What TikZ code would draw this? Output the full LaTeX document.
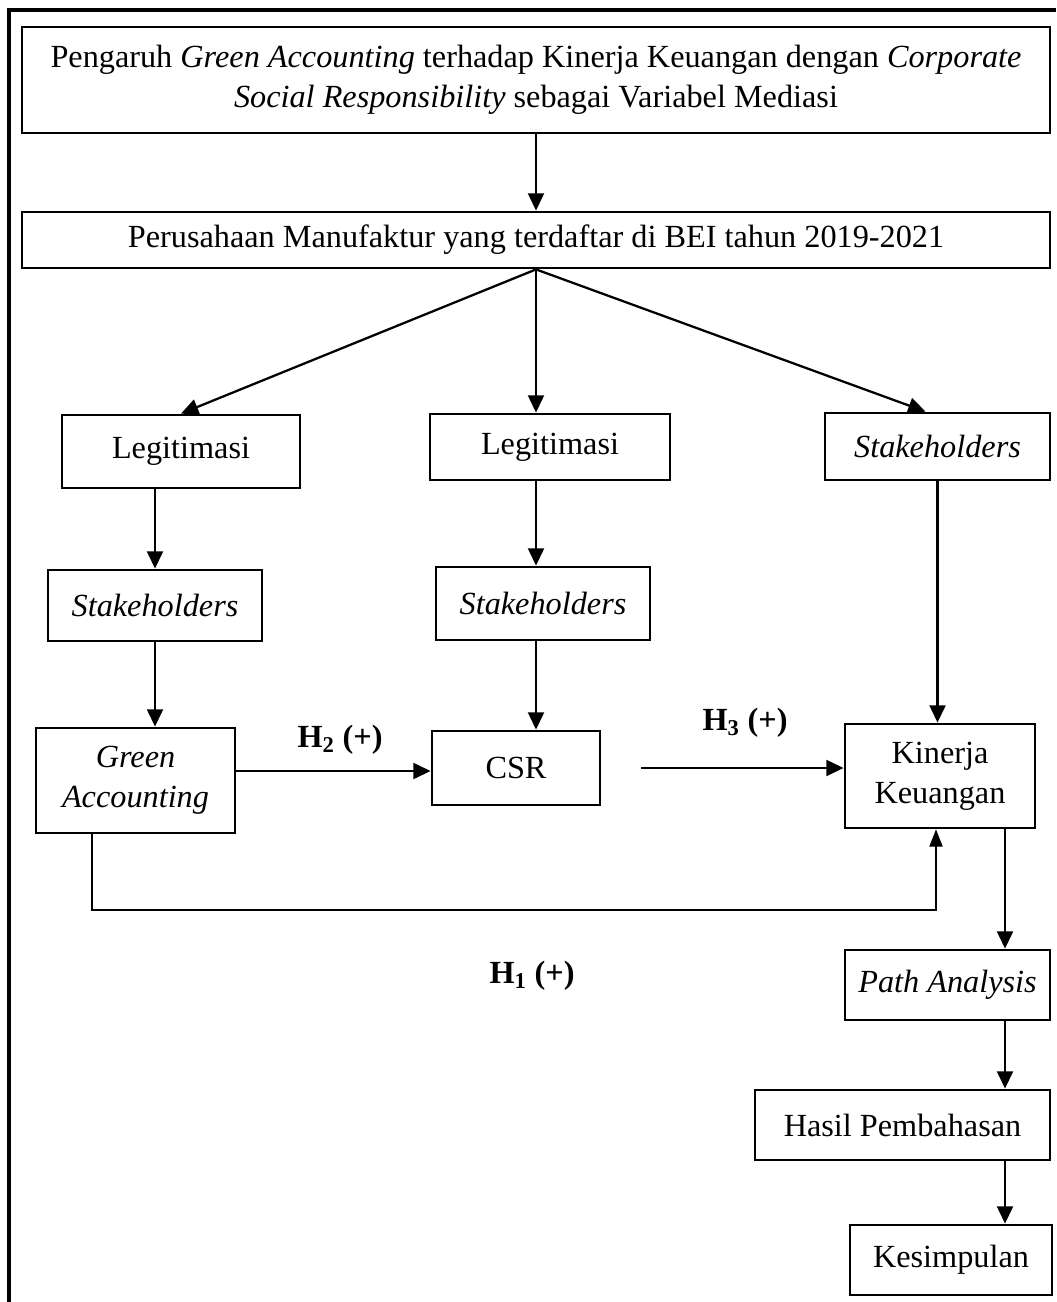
\documentclass[tikz,border=0pt]{standalone}
\usepackage{fontspec}
\setmainfont{Liberation Serif}
\usetikzlibrary{positioning, arrows.meta, calc}
\definecolor{clrborder}{HTML}{000000}
\definecolor{clrtext}{HTML}{000000}

\begin{document}
\begin{tikzpicture}[
    x=0.75pt, y=-0.75pt,
    every node/.style={font=\fontsize{24.2}{30}\selectfont, text=clrtext},
    block/.style={draw=clrborder, line width=2.1pt, inner sep=0pt, align=center},
    arrow/.style={-{Triangle[length=13pt, width=12pt]}, color=clrborder, line width=1.7pt},
    thinarrow/.style={-{Triangle[length=13pt, width=10pt]}, color=clrborder, line width=0.9pt},
    frame/.style={draw=clrborder, line width=2.6pt},
    hlabel/.style={font=\fontsize{24.2}{30}\selectfont\bfseries, text=clrtext},
]
\useasboundingbox (0,0) rectangle (1056,1302);
\draw[frame] (1056,10) -- (9,10) -- (9,1302);
\node[block, minimum width=771pt, minimum height=79.5pt] (n_title) at (536,80) {Pengaruh \textit{Green Accounting} terhadap Kinerja Keuangan dengan \textit{Corporate}\\\textit{Social Responsibility} sebagai Variabel Mediasi};
\node[block, minimum width=771pt, minimum height=42pt] (n_firm) at (536,240) {Perusahaan Manufaktur yang terdaftar di BEI tahun 2019-2021};
\node[block, minimum width=178.5pt, minimum height=54.75pt] (n_legit_l) at (181,451.5) {Legitimasi};
\node[block, minimum width=180pt, minimum height=49.5pt] (n_legit_c) at (550,447) {Legitimasi};
\node[block, minimum width=168.75pt, minimum height=50.25pt] (n_stake_r) at (937.5,446.5) {\textit{Stakeholders}};
\node[block, minimum width=160.5pt, minimum height=53.25pt] (n_stake_l) at (155,605.5) {\textit{Stakeholders}};
\node[block, minimum width=160.5pt, minimum height=54.75pt] (n_stake_c) at (543,603.5) {\textit{Stakeholders}};
\node[block, minimum width=149.25pt, minimum height=78.75pt] (n_green) at (135.5,780.5) {\textit{Green}\\\textit{Accounting}};
\node[block, minimum width=126pt, minimum height=55.5pt] (n_csr) at (516,768) {CSR};
\node[block, minimum width=142.5pt, minimum height=78pt] (n_kinerja) at (940,776) {Kinerja\\Keuangan};
\node[block, minimum width=153.75pt, minimum height=52.5pt] (n_path) at (947.5,985) {\textit{Path Analysis}};
\node[block, minimum width=221.25pt, minimum height=52.5pt] (n_hasil) at (902.5,1125) {Hasil Pembahasan};
\node[block, minimum width=151.5pt, minimum height=52.5pt] (n_kesim) at (951,1260) {Kesimpulan};
\coordinate (spine) at (1005,0);
\coordinate (h1_turn) at (936,910);
\draw[arrow] (n_title.south) -- (n_firm.north);
\draw[arrow] (n_firm.south) -- (n_legit_l.north);
\draw[arrow] (n_firm.south) -- (n_firm.south |- n_legit_c.north);
\draw[arrow] (n_firm.south) -- ([xshift=-9pt]n_stake_r.north);
\draw[arrow] (n_stake_l.north |- n_legit_l.south) -- (n_stake_l.north);
\draw[arrow] (n_stake_l.south) -- (n_stake_l.south |- n_green.north);
\draw[arrow] (n_firm.south |- n_legit_c.south) -- (n_firm.south |- n_stake_c.north);
\draw[arrow] (n_firm.south |- n_stake_c.south) -- (n_firm.south |- n_csr.north);
\draw[arrow] (n_stake_r.south) -- (n_stake_r.south |- n_kinerja.north);
\draw[arrow] (n_green.east |- 0,771) -- (n_csr.west |- 0,771);
\draw[arrow] ([xshift=30pt]n_csr.east) -- (n_csr.east -| n_kinerja.west);
\draw[thinarrow] ([xshift=-32.6pt]n_green.south) |- (h1_turn) -- (h1_turn |- n_kinerja.south);
\draw[arrow] (n_kinerja.south -| spine) -- (n_path.north -| spine);
\draw[arrow] (n_path.south -| spine) -- (n_hasil.north -| spine);
\draw[arrow] (n_hasil.south -| spine) -- (n_kesim.north -| spine);
\node[hlabel] (h_2) at (340,740) {H\textsubscript{2} (+)};
\node[hlabel] (h_3) at (745,723) {H\textsubscript{3} (+)};
\node[hlabel] (h_1) at (532,976) {H\textsubscript{1} (+)};
\end{tikzpicture}
\end{document}
